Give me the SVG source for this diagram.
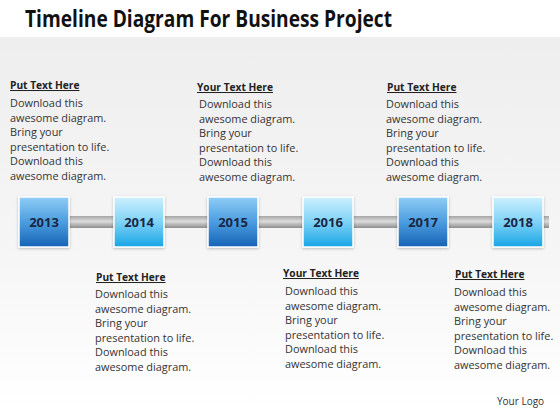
<svg xmlns="http://www.w3.org/2000/svg" width="560" height="420" viewBox="0 0 560 420">
<defs>
<linearGradient id="bg" x1="0" y1="0" x2="0" y2="1">
<stop offset="0" stop-color="#eeeeee"/>
<stop offset="0.6" stop-color="#f6f6f6"/>
<stop offset="1" stop-color="#ffffff"/>
</linearGradient>
<linearGradient id="dark" x1="0" y1="0" x2="0" y2="1">
<stop offset="0" stop-color="#8fcdf5"/>
<stop offset="0.5" stop-color="#4b9de0"/>
<stop offset="1" stop-color="#1663b5"/>
</linearGradient>
<linearGradient id="light" x1="0" y1="0" x2="0" y2="1">
<stop offset="0" stop-color="#cdf0fd"/>
<stop offset="0.5" stop-color="#7fd2f6"/>
<stop offset="1" stop-color="#16a5e6"/>
</linearGradient>
<linearGradient id="bar" x1="0" y1="0" x2="0" y2="1">
<stop offset="0" stop-color="#a6a6a6"/>
<stop offset="0.45" stop-color="#dcdcdc"/>
<stop offset="1" stop-color="#8e8e8e"/>
</linearGradient>
<filter id="sh" x="-20%" y="-20%" width="140%" height="140%">
<feGaussianBlur in="SourceAlpha" stdDeviation="1.5"/>
<feOffset dx="0" dy="0.5"/>
<feComponentTransfer><feFuncA type="linear" slope="0.25"/></feComponentTransfer>
<feMerge><feMergeNode/><feMergeNode in="SourceGraphic"/></feMerge>
</filter>
</defs>
<style>
.title{font-family:"Open Sans","Noto Sans",sans-serif;font-weight:bold;font-size:23.5px;fill:#111}
.hd{font-family:"Open Sans","Noto Sans",sans-serif;font-weight:bold;font-size:10.2px;fill:#222;text-decoration:underline}
.bd{font-family:"Open Sans","Noto Sans",sans-serif;font-size:10.9px;fill:#333}
.yr{font-family:"Open Sans","Noto Sans",sans-serif;font-weight:bold;font-size:13px;fill:#1a2745;text-anchor:middle}
.box{stroke:#ffffff;stroke-width:1.5;filter:url(#sh)}
.logo{font-family:"Open Sans","Noto Sans",sans-serif;font-size:10px;fill:#333}
</style>
<rect x="0" y="0" width="560" height="420" fill="#ffffff"/>
<rect x="0" y="37" width="560" height="370" fill="url(#bg)"/>
<text class="title" x="25" y="27" textLength="367" lengthAdjust="spacingAndGlyphs">Timeline Diagram For Business Project</text>

<g id="connectors">
<rect x="66" y="216" width="483" height="12" fill="url(#bar)"/>
</g>

<g id="n2013"><rect class="box" x="19" y="197" width="50" height="50" fill="url(#dark)"/><text class="yr" x="44" y="227">2013</text></g>
<g id="n2014"><rect class="box" x="114" y="197" width="50" height="50" fill="url(#light)"/><text class="yr" x="139" y="227">2014</text></g>
<g id="n2015"><rect class="box" x="208" y="197" width="50" height="50" fill="url(#dark)"/><text class="yr" x="233" y="227">2015</text></g>
<g id="n2016"><rect class="box" x="303" y="197" width="50" height="50" fill="url(#light)"/><text class="yr" x="328" y="227">2016</text></g>
<g id="n2017"><rect class="box" x="398" y="197" width="50" height="50" fill="url(#dark)"/><text class="yr" x="423" y="227">2017</text></g>
<g id="n2018"><rect class="box" x="493" y="197" width="50" height="50" fill="url(#light)"/><text class="yr" x="518" y="227">2018</text></g>

<g id="t1">
<text class="hd" x="10" y="89">Put Text Here</text>
<text class="bd" x="10" y="107">Download this</text>
<text class="bd" x="10" y="121.6">awesome diagram.</text>
<text class="bd" x="10" y="136.2">Bring your</text>
<text class="bd" x="10" y="150.8">presentation to life.</text>
<text class="bd" x="10" y="165.4">Download this</text>
<text class="bd" x="10" y="180">awesome diagram.</text>
</g>
<g id="t2">
<text class="hd" x="197" y="91">Your Text Here</text>
<text class="bd" x="199" y="108">Download this</text>
<text class="bd" x="199" y="122.6">awesome diagram.</text>
<text class="bd" x="199" y="137.2">Bring your</text>
<text class="bd" x="199" y="151.8">presentation to life.</text>
<text class="bd" x="199" y="166.4">Download this</text>
<text class="bd" x="199" y="181">awesome diagram.</text>
</g>
<g id="t3">
<text class="hd" x="387" y="91">Put Text Here</text>
<text class="bd" x="386" y="108">Download this</text>
<text class="bd" x="386" y="122.6">awesome diagram.</text>
<text class="bd" x="386" y="137.2">Bring your</text>
<text class="bd" x="386" y="151.8">presentation to life.</text>
<text class="bd" x="386" y="166.4">Download this</text>
<text class="bd" x="386" y="181">awesome diagram.</text>
</g>
<g id="b1">
<text class="hd" x="96" y="281">Put Text Here</text>
<text class="bd" x="95" y="298">Download this</text>
<text class="bd" x="95" y="312.6">awesome diagram.</text>
<text class="bd" x="95" y="327.2">Bring your</text>
<text class="bd" x="95" y="341.8">presentation to life.</text>
<text class="bd" x="95" y="356.4">Download this</text>
<text class="bd" x="95" y="371">awesome diagram.</text>
</g>
<g id="b2">
<text class="hd" x="283" y="277">Your Text Here</text>
<text class="bd" x="285" y="295">Download this</text>
<text class="bd" x="285" y="309.6">awesome diagram.</text>
<text class="bd" x="285" y="324.2">Bring your</text>
<text class="bd" x="285" y="338.8">presentation to life.</text>
<text class="bd" x="285" y="353.4">Download this</text>
<text class="bd" x="285" y="368">awesome diagram.</text>
</g>
<g id="b3">
<text class="hd" x="455" y="278">Put Text Here</text>
<text class="bd" x="454" y="296">Download this</text>
<text class="bd" x="454" y="310.6">awesome diagram.</text>
<text class="bd" x="454" y="325.2">Bring your</text>
<text class="bd" x="454" y="339.8">presentation to life.</text>
<text class="bd" x="454" y="354.4">Download this</text>
<text class="bd" x="454" y="369">awesome diagram.</text>
</g>
<text class="logo" x="497" y="405">Your Logo</text>
</svg>
